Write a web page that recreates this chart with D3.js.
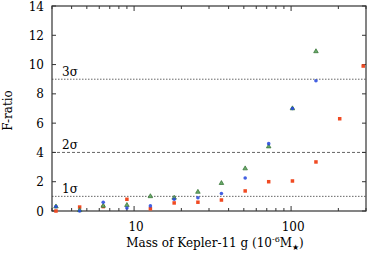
<!DOCTYPE html>
<html>
<head>
<meta charset="utf-8">
<script src="https://cdn.jsdelivr.net/npm/d3@7"></script>
<style>
  body { margin: 0; background: #fff; }
</style>
</head>
<body>
<div id="container"></div>
<script>
// masses of Kepler-11 g (10^-6 M_star)
const masses = [3.18, 4.5, 6.36, 9, 12.7, 18, 25.5, 36, 51, 72, 102, 144, 204, 288];
const redVals = [0.0, 0.27, 0.3, 0.8, 0.15, 0.55, 0.6, 0.75, 1.37, 2.0, 2.05, 3.35, 6.3, 9.9];
const blueVals = [0.3, 0.0, 0.6, 0.2, 0.35, 0.8, 0.9, 1.2, 2.25, 4.6, 7.0, 8.9];
const greenVals = [0.3, 0.05, 0.35, 0.4, 1.0, 0.9, 1.3, 1.9, 2.9, 4.4, 7.0, 10.9];
const yTicks = [0, 2, 4, 6, 8, 10, 12, 14];
const sigmas = [
  { v: 1, label: "1σ", dash: "1.5,1.5" },
  { v: 4, label: "2σ", dash: "3,2" },
  { v: 9, label: "3σ", dash: "1.5,1.5" }
];

const w = 369;
const h = 255;
const m = { left: 52, right: 3, top: 6, bottom: 44 };

const svg = d3.select("#container")
  .append("svg")
  .attr("width", w)
  .attr("height", h)
  .style("font-family", "'DejaVu Serif', serif");

const xScale = d3.scaleLog()
  .domain([3, 300])
  .range([m.left, w - m.right]);

const yScale = d3.scaleLinear()
  .domain([0, 14])
  .range([h - m.bottom, m.top]);

const x0 = m.left, x1 = w - m.right, y0 = h - m.bottom, y1 = m.top;

// sigma lines
sigmas.forEach((s) => {
  svg.append("line")
    .attr("x1", x0).attr("x2", x1)
    .attr("y1", yScale(s.v)).attr("y2", yScale(s.v))
    .attr("stroke", "#666")
    .attr("stroke-width", 1)
    .attr("stroke-dasharray", s.dash);
  svg.append("text")
    .attr("x", x0 + 10)
    .attr("y", yScale(s.v) - 3)
    .style("font-size", "12px")
    .text(s.label);
});

// ticks, inward on all sides
const xMajor = [10, 100];
const xMinor = xScale.ticks().filter((t) => xMajor.indexOf(t) < 0);
function tickLines(vals, len) {
  vals.forEach((t) => {
    const x = xScale(t);
    svg.append("line").attr("x1", x).attr("x2", x).attr("y1", y0).attr("y2", y0 - len)
      .attr("stroke", "#333");
    svg.append("line").attr("x1", x).attr("x2", x).attr("y1", y1).attr("y2", y1 + len)
      .attr("stroke", "#333");
  });
}
tickLines(xMinor, 3);
tickLines(xMajor, 5);

yTicks.forEach((t) => {
  const y = yScale(t);
  svg.append("line").attr("x1", x0).attr("x2", x0 + 4).attr("y1", y).attr("y2", y).attr("stroke", "#333");
  svg.append("line").attr("x1", x1).attr("x2", x1 - 4).attr("y1", y).attr("y2", y).attr("stroke", "#333");
  svg.append("text")
    .attr("x", x0 - 8)
    .attr("y", y + 4.5)
    .attr("text-anchor", "end")
    .style("font-size", "12px")
    .text(t);
});

xMajor.forEach((t) => {
  svg.append("text")
    .attr("x", xScale(t) + 2)
    .attr("y", y0 + 20)
    .attr("text-anchor", "middle")
    .style("font-size", "12px")
    .text(t);
});

// frame
svg.append("rect")
  .attr("x", x0).attr("y", y1)
  .attr("width", x1 - x0).attr("height", y0 - y1)
  .attr("fill", "none")
  .attr("stroke", "#333")
  .attr("stroke-width", 1.2);

// points
svg.selectAll(".red")
  .data(redVals)
  .enter()
  .append("rect")
  .attr("class", "red")
  .attr("x", (d, i) => xScale(masses[i]) - 1.75)
  .attr("y", (d) => yScale(d) - 1.75)
  .attr("width", 3.5)
  .attr("height", 3.5)
  .attr("fill", "#f04a22");

svg.selectAll(".green")
  .data(greenVals)
  .enter()
  .append("path")
  .attr("class", "green")
  .attr("d", d3.symbol().type(d3.symbolTriangle).size(9))
  .attr("transform", (d, i) => "translate(" + xScale(masses[i]) + "," + yScale(d) + ")")
  .attr("fill", "#6aaa6a")
  .attr("stroke", "#2f6f2f")
  .attr("stroke-width", 0.7);

svg.selectAll(".blue")
  .data(blueVals)
  .enter()
  .append("circle")
  .attr("class", "blue")
  .attr("cx", (d, i) => xScale(masses[i]))
  .attr("cy", (d) => yScale(d))
  .attr("r", 1.8)
  .attr("fill", "#2244dd")
  .attr("fill-opacity", 0.85);

// axis labels
svg.append("text")
  .attr("transform", "translate(12," + (yScale(7) + 2) + ") rotate(-90)")
  .attr("text-anchor", "middle")
  .style("font-size", "12px")
  .text("F-ratio");

const xl = svg.append("text")
  .attr("x", 215)
  .attr("y", 247)
  .attr("text-anchor", "middle")
  .style("font-size", "12px");
xl.append("tspan").text("Mass of Kepler-11 g (10");
xl.append("tspan").attr("dy", -5).style("font-size", "8px").text("-6");
xl.append("tspan").attr("dy", 5).text("M");
xl.append("tspan").attr("dy", 3).style("font-size", "8px").text("★");
xl.append("tspan").attr("dy", -3).text(")");
</script>
</body>
</html>
